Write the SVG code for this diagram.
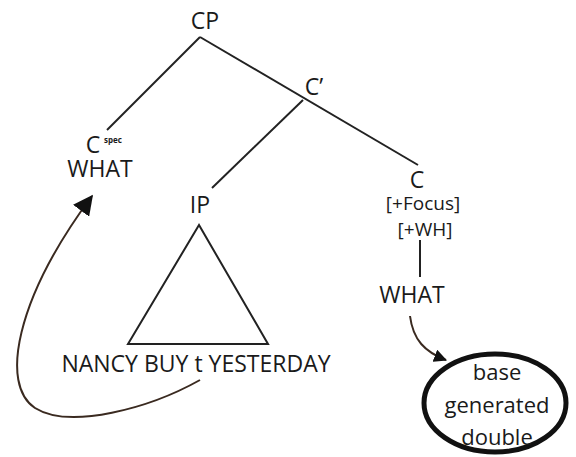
<svg xmlns="http://www.w3.org/2000/svg" width="576" height="457" viewBox="0 0 576 457">
  <defs>
    <style>
      .lbl { font-family: "Open Sans", "Liberation Sans", sans-serif; fill: #1a1a1a; text-anchor: middle; }
      .big { font-size: 23px; }
      .oval { font-size: 22px; }
      .feat { font-size: 19px; }
      .sup { font-size: 8px; font-weight: bold; text-anchor: start; }
      .edge { stroke: #222; stroke-width: 2; fill: none; }
      .move { stroke: #3a2a20; stroke-width: 2; fill: none; }
    </style>
    <marker id="head" viewBox="0 0 12 12" refX="11" refY="6" markerWidth="13" markerHeight="13" markerUnits="userSpaceOnUse" orient="auto">
      <path d="M0,0 L12,6 L0,12 Z" fill="#111"/>
    </marker>
    <marker id="headBig" viewBox="0 0 12 12" refX="11" refY="6" markerWidth="20" markerHeight="20" markerUnits="userSpaceOnUse" orient="auto">
      <path d="M0,0 L12,6 L0,12 Z" fill="#111"/>
    </marker>
  </defs>
  <rect width="576" height="457" fill="#fff"/>

  <g id="connectors">
    <line class="edge" x1="200" y1="37" x2="107" y2="130"/>
    <line class="edge" x1="200" y1="37" x2="418" y2="165"/>
    <line class="edge" x1="303" y1="100" x2="212" y2="188"/>
    <line class="edge" x1="420" y1="240" x2="420" y2="277"/>
    <path class="move" d="M200,380 C150,408 70,430 35,408 C0,385 15,300 92,196" marker-end="url(#headBig)"/>
    <path class="move" d="M410,316 C413,340 425,352 446,360" marker-end="url(#head)"/>
  </g>

  <g id="cp"><text class="lbl big" x="205" y="29">CP</text></g>
  <g id="cbar"><text class="lbl big" x="314" y="95">C’</text></g>
  <g id="cspec">
    <text class="lbl big" x="93" y="153">C</text>
    <text class="lbl sup" x="104" y="143">spec</text>
    <text class="lbl big" x="100" y="177">WHAT</text>
  </g>
  <g id="ip">
    <text class="lbl big" x="200" y="213">IP</text>
    <polygon points="199,225 128,344 268,344" fill="none" stroke="#222" stroke-width="2"/>
    <text class="lbl big" x="196" y="372">NANCY BUY t YESTERDAY</text>
  </g>
  <g id="c-head">
    <text class="lbl big" x="417" y="188">C</text>
    <text class="lbl feat" x="423" y="210">[+Focus]</text>
    <text class="lbl feat" x="425" y="236">[+WH]</text>
  </g>
  <g id="what-low"><text class="lbl big" x="412" y="303">WHAT</text></g>
  <g id="double">
    <ellipse cx="495" cy="403" rx="71" ry="49" fill="none" stroke="#111" stroke-width="5"/>
    <text class="lbl oval" x="497" y="380">base</text>
    <text class="lbl oval" x="497" y="413">generated</text>
    <text class="lbl oval" x="497" y="445">double</text>
  </g>
</svg>
